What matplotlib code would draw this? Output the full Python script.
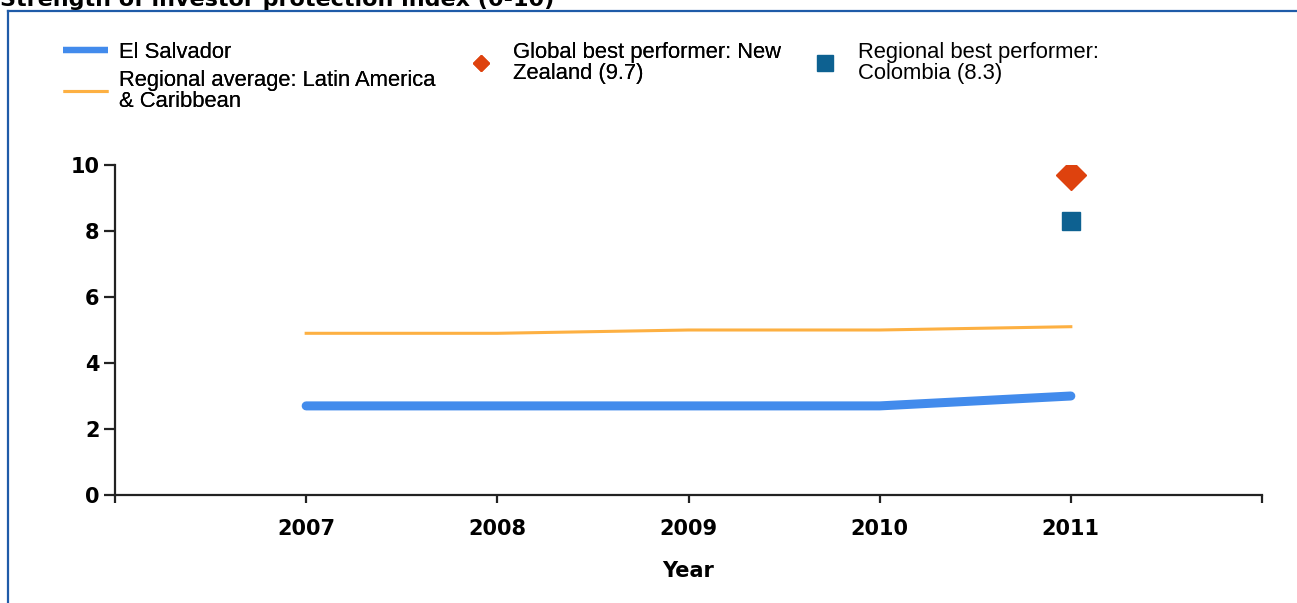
import matplotlib.pyplot as plt
from matplotlib.lines import Line2D
import numpy as np

years = [2007, 2008, 2009, 2010, 2011]
el_salvador = [2.7, 2.7, 2.7, 2.7, 3.0]
regional_avg = [4.9, 4.9, 5.0, 5.0, 5.1]
global_best_year = [2011]
global_best = [9.7]
regional_best_year = [2011]
regional_best = [8.3]

tick_years = [2006, 2007, 2008, 2009, 2010, 2011, 2012]
tick_labels = ["", "2007", "2008", "2009", "2010", "2011", ""]

W, H = 1297, 603
fig = plt.figure(figsize=(W / 100, H / 100), dpi=100)
ax = fig.add_axes([115 / W, 1 - 495 / H, (1262 - 115) / W, (495 - 165) / H])

l1, = ax.plot(years, el_salvador, color="#428bec", lw=6.5, solid_capstyle="round",
              solid_joinstyle="round", label="El Salvador")
l2, = ax.plot(years, regional_avg, color="#fdb042", lw=2.2,
              label="Regional average: Latin America\n& Caribbean")
l3, = ax.plot(global_best_year, global_best, ls="none", marker="D", ms=15.5,
              color="#de420e", label="Global best performer: New\nZealand (9.7)")
l4, = ax.plot(regional_best_year, regional_best, ls="none", marker="s", ms=13,
              color="#0d6191", label="Regional best performer:\nColombia (8.3)")

ax.set_xlim(2006, 2012)
ax.set_ylim(0, 10)
ax.set_xticks(tick_years)
ax.set_xticklabels(tick_labels)
ax.set_yticks(np.arange(0, 11, 2))
for s in ["top", "right"]:
    ax.spines[s].set_visible(False)
for s in ["left", "bottom"]:
    ax.spines[s].set_linewidth(1.6)
    ax.spines[s].set_color("#222222")
ax.tick_params(axis="y", length=8, width=1.6, color="#222222", pad=3)
ax.tick_params(axis="x", length=6, width=1.6, color="#222222", pad=11)
for lab in ax.get_xticklabels() + ax.get_yticklabels():
    lab.set_fontweight("bold")
    lab.set_fontsize(15)
    lab.set_family("DejaVu Sans")
ax.set_xlabel("Year", fontsize=15, fontweight="bold", labelpad=16)

leg_font = {"family": "Liberation Sans", "size": 15.8}
leg1 = fig.legend(handles=[l1, l2], loc="upper left", bbox_to_anchor=(63 / W, 1 - 42 / H),
                  frameon=False, prop=leg_font, handlelength=2.05, handletextpad=0.5,
                  labelspacing=0.3, borderpad=0, borderaxespad=0)
for ln in leg1.get_lines():
    ln.set_solid_capstyle("butt")
leg1.get_lines()[0].set_linewidth(4.5)
leg2 = fig.legend(handles=[l3], loc="upper left", bbox_to_anchor=(468 / W, 1 - 42 / H),
                  frameon=False, prop=leg_font, handlelength=1.2, handletextpad=0.87,
                  borderpad=0, borderaxespad=0, markerscale=0.55)
leg3 = fig.legend(handles=[l4], loc="upper left", bbox_to_anchor=(812 / W, 1 - 42 / H),
                  frameon=False, prop=leg_font, handlelength=1.2, handletextpad=0.9,
                  borderpad=0, borderaxespad=0, markerscale=0.85)
for lg in (leg1, leg2, leg3):
    for t in lg.get_texts():
        t.set_linespacing(1.0)
fig.add_artist(leg1)
fig.add_artist(leg2)

# frame of the panel
fig.add_artist(Line2D([8 / W, 1], [1 - 11 / H, 1 - 11 / H], color="#1f5ba8", lw=1.6))
fig.add_artist(Line2D([8 / W, 8 / W], [0, 1 - 11 / H], color="#1f5ba8", lw=1.6))

fig.text(0.0, 1 - 6 / H, "Strength of investor protection index (0-10)", fontsize=16,
         fontweight="bold", va="baseline", ha="left")

fig.savefig("out.png", dpi=100)
